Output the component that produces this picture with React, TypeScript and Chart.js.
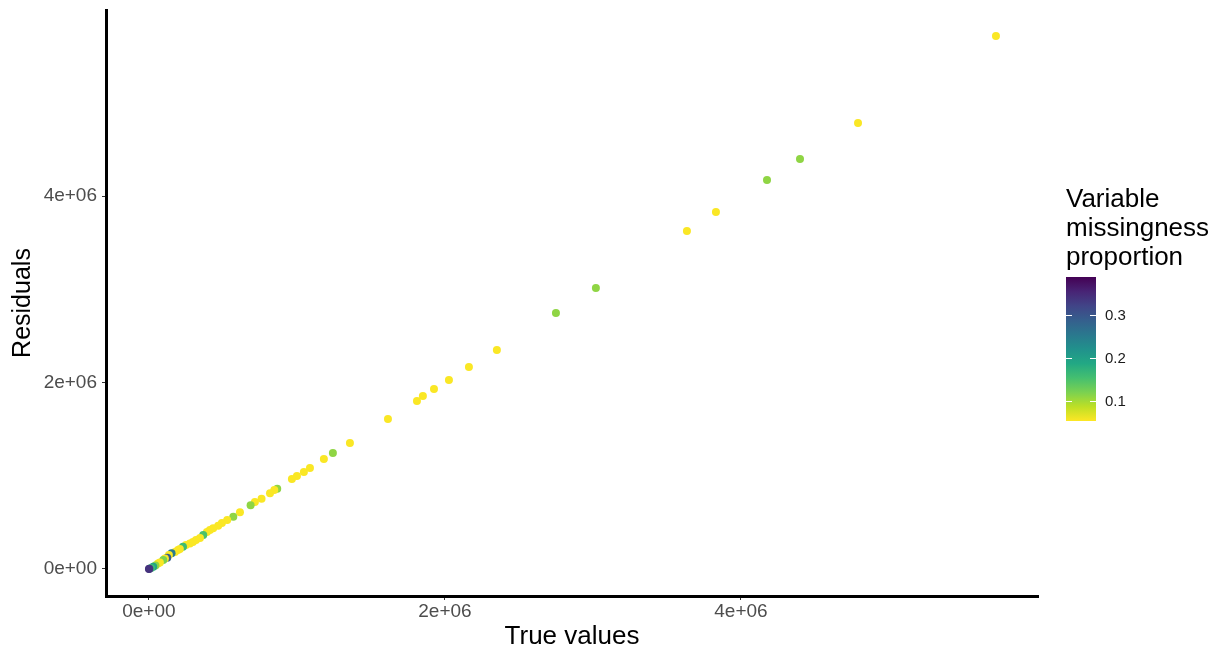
import React, { useEffect, useRef } from "react";
import { Chart, registerables } from "chart.js";

Chart.register(...registerables);

// True values (x)
const trueValues = [
  5723000, 4791000, 4399000, 4176000, 3831000, 3635000, 3020000, 2750000,
  2351000, 2162000, 2027000, 1926000, 1851000, 1811000, 1615000, 1358000,
  1243000, 1182000, 1088000, 1047000, 1000000, 966000, 867000, 847000,
  818000, 761000, 716000, 687000, 615000, 570000, 529000, 493000, 468000,
  434000, 412000, 392000, 367000, 345000, 318000, 297000, 277000, 250000,
  230000, 209000, 196000, 176000, 153000, 135000, 124000, 108000, 97000,
  74000, 61000, 44000, 29000, 14000, 3000, 0,
];

// Residuals (y)
const residuals = [
  5716000, 4783000, 4397000, 4172000, 3828000, 3625000, 3013000, 2745000,
  2349000, 2166000, 2027000, 1930000, 1855000, 1802000, 1609000, 1351000,
  1244000, 1180000, 1083000, 1040000, 997000, 965000, 861000, 847000,
  812000, 754000, 718000, 683000, 608000, 561000, 525000, 493000, 464000,
  436000, 418000, 397000, 365000, 332000, 311000, 290000, 273000, 257000,
  239000, 214000, 204000, 182000, 168000, 150000, 121000, 113000, 97000,
  68000, 59000, 38000, 25000, 11000, 2000, 0,
];

// Variable missingness proportion (colour)
const missingness = [
  0.055, 0.055, 0.11, 0.11, 0.055, 0.055, 0.11, 0.11,
  0.055, 0.055, 0.055, 0.055, 0.055, 0.055, 0.055, 0.055,
  0.11, 0.055, 0.055, 0.055, 0.055, 0.055, 0.11, 0.055,
  0.055, 0.055, 0.055, 0.11, 0.055, 0.11, 0.055, 0.055, 0.055,
  0.055, 0.055, 0.055, 0.15, 0.055, 0.055, 0.055, 0.055, 0.055,
  0.16, 0.055, 0.055, 0.055, 0.25, 0.055, 0.29, 0.055, 0.12,
  0.055, 0.055, 0.11, 0.19, 0.16, 0.32, 0.34,
];

const xTicks = [0, 2000000, 4000000];
const yTicks = [0, 2000000, 4000000];
const legendTicks = [0.1, 0.2, 0.3];

const xMin = -290000;
const xMax = 6007000;
const yMin = -290000;
const yMax = 5995000;
const colorMin = 0.0535;
const colorMax = 0.388;

const VIRIDIS = [
  "#440154", "#482475", "#414487", "#355f8d", "#2a788e", "#21918c",
  "#22a884", "#44bf70", "#7ad151", "#bddf26", "#fde725",
];

function hexToRgb(h: string) {
  return [parseInt(h.slice(1, 3), 16), parseInt(h.slice(3, 5), 16), parseInt(h.slice(5, 7), 16)];
}

function viridis(t: number) {
  const c = Math.max(0, Math.min(1, t)) * (VIRIDIS.length - 1);
  const i = Math.min(Math.floor(c), VIRIDIS.length - 2);
  const f = c - i;
  const a = hexToRgb(VIRIDIS[i]);
  const b = hexToRgb(VIRIDIS[i + 1]);
  const r = a.map((v, k) => Math.round(v + (b[k] - v) * f));
  return `rgb(${r[0]},${r[1]},${r[2]})`;
}

function colorFor(v: number) {
  const t = (v - colorMin) / (colorMax - colorMin);
  return viridis(1 - t);
}

function sci(v: number) {
  if (v === 0) return "0e+00";
  const e = Math.floor(Math.log10(Math.abs(v)));
  const m = v / Math.pow(10, e);
  return `${Math.round(m)}e+${String(e).padStart(2, "0")}`;
}

const FONT = "'Liberation Sans', Arial, Helvetica, sans-serif";

const legendPlugin = {
  id: "colorbarLegend",
  afterDraw(chart: any) {
    const ctx = chart.ctx;
    const left = 1066;
    const barW = 30;
    const top = 277;
    const bottom = 421;
    ctx.save();
    ctx.fillStyle = "#000000";
    ctx.font = `26px ${FONT}`;
    ctx.textBaseline = "alphabetic";
    ctx.textAlign = "left";
    ["Variable", "missingness", "proportion"].forEach((line, i) => {
      ctx.fillText(line, left, 207 + i * 29);
    });
    const grad = ctx.createLinearGradient(0, top, 0, bottom);
    VIRIDIS.forEach((c, i) => grad.addColorStop(i / (VIRIDIS.length - 1), c));
    ctx.fillStyle = grad;
    ctx.fillRect(left, top, barW, bottom - top);
    ctx.strokeStyle = "#ffffff";
    ctx.lineWidth = 1;
    ctx.font = `15px ${FONT}`;
    ctx.textBaseline = "middle";
    legendTicks.forEach((v) => {
      const y = Math.round(bottom - ((v - colorMin) / (colorMax - colorMin)) * (bottom - top)) + 0.5;
      ctx.beginPath();
      ctx.moveTo(left, y);
      ctx.lineTo(left + 6, y);
      ctx.moveTo(left + barW - 6, y);
      ctx.lineTo(left + barW, y);
      ctx.stroke();
      ctx.fillStyle = "#1a1a1a";
      ctx.fillText(v.toFixed(1), left + barW + 9, y);
    });
    ctx.restore();
  },
};

export default function App() {
  const ref = useRef<HTMLCanvasElement | null>(null);

  useEffect(() => {
    if (!ref.current) return;
    const data = trueValues.map((x, i) => ({ x, y: residuals[i] }));
    const colors = missingness.map(colorFor);
    const chart = new Chart(ref.current, {
      type: "scatter",
      data: {
        datasets: [
          {
            data,
            backgroundColor: colors,
            borderWidth: 0,
            pointRadius: 4,
            pointHoverRadius: 4,
          },
        ],
      },
      options: {
        animation: false,
        responsive: false,
        devicePixelRatio: 1,
        events: [],
        layout: { padding: { top: 10, right: 184, left: 0, bottom: 0 } },
        plugins: { legend: { display: false }, tooltip: { enabled: false } },
        scales: {
          x: {
            type: "linear",
            min: xMin,
            max: xMax,
            afterBuildTicks: (s: any) => {
              s.ticks = xTicks.map((value) => ({ value }));
            },
            afterFit: (s: any) => {
              s.height = 59;
              s.paddingLeft = 0;
              s.paddingRight = 0;
            },
            ticks: {
              callback: (v: any) => sci(Number(v)),
              color: "#4d4d4d",
              font: { family: FONT, size: 19 },
              padding: 0,
              maxRotation: 0,
            },
            grid: {
              drawOnChartArea: false,
              drawTicks: true,
              tickLength: 4,
              tickColor: "#333333",
              tickWidth: 1,
            },
            border: { display: true, color: "#000000", width: 3 },
            title: {
              display: true,
              text: "True values",
              color: "#000000",
              font: { family: FONT, size: 26 },
              padding: { top: 0, bottom: 3 },
            },
          },
          y: {
            type: "linear",
            min: yMin,
            max: yMax,
            afterBuildTicks: (s: any) => {
              s.ticks = yTicks.map((value) => ({ value }));
            },
            afterFit: (s: any) => {
              s.width = 106;
              s.paddingTop = 0;
              s.paddingBottom = 0;
            },
            ticks: {
              callback: (v: any) => sci(Number(v)),
              color: "#4d4d4d",
              font: { family: FONT, size: 19 },
              padding: 5,
            },
            grid: {
              drawOnChartArea: false,
              drawTicks: true,
              tickLength: 4,
              tickColor: "#333333",
              tickWidth: 1,
            },
            border: { display: true, color: "#000000", width: 3 },
            title: {
              display: true,
              text: "Residuals",
              color: "#000000",
              font: { family: FONT, size: 25 },
              padding: { top: 8, bottom: 0 },
            },
          },
        },
      },
      plugins: [legendPlugin],
    } as any);
    return () => chart.destroy();
  }, []);

  return (
    <div style={{ position: "fixed", left: 0, top: 0, width: 1222, height: 655, background: "#ffffff" }}>
      <canvas ref={ref} width={1222} height={655} style={{ display: "block" }} />
    </div>
  );
}
